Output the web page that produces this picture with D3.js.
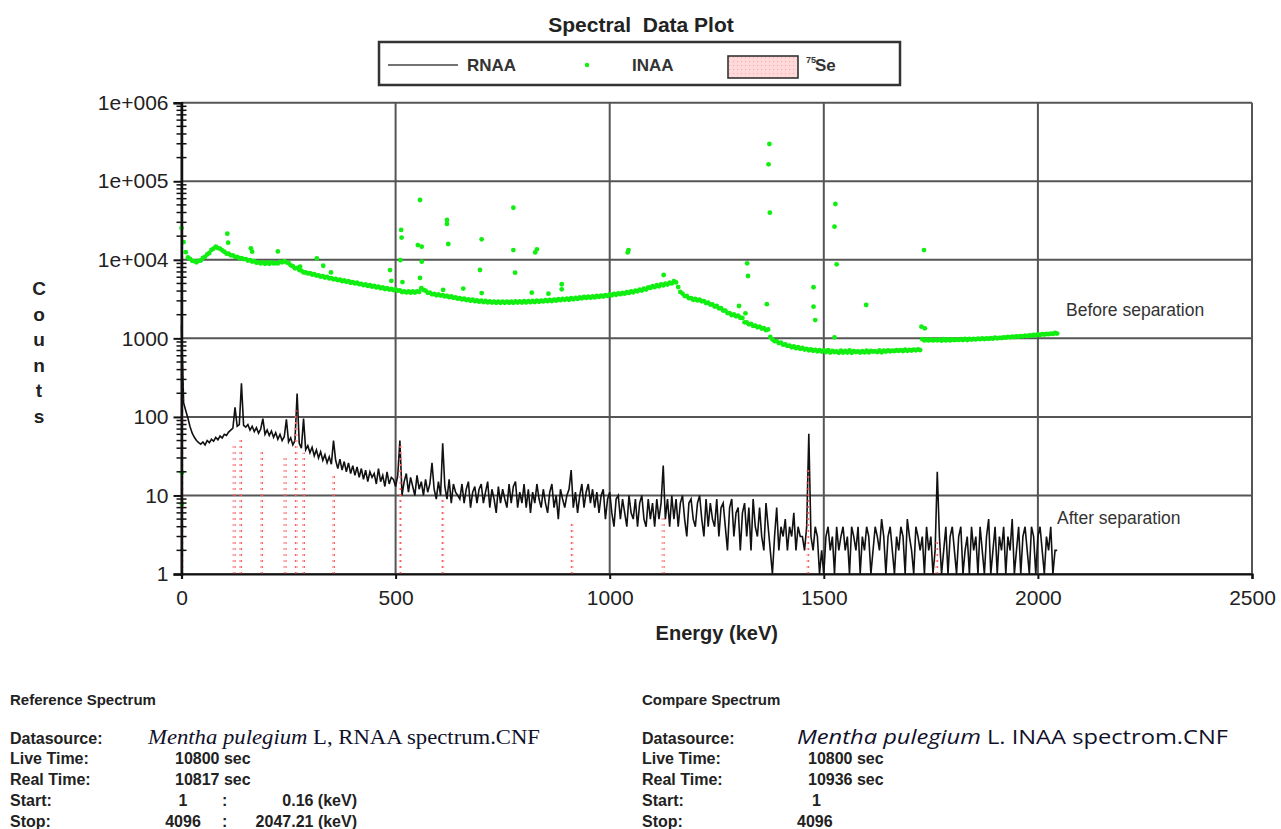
<!DOCTYPE html>
<html><head><meta charset="utf-8">
<script src="https://cdn.jsdelivr.net/npm/d3@7/dist/d3.min.js"></script>
<style>
body{margin:0;background:#fff;}
svg{display:block;font-family:"Liberation Sans",Arial,sans-serif;}
</style></head><body>
<svg id="chart" width="1281" height="829"></svg>
<script>
// ---------- data ----------
const xTicks = [0, 500, 1000, 1500, 2000, 2500];
const yTicks = [1, 10, 100, 1000, 1e4, 1e5, 1e6];
const yTickLabels = ["1", "10", "100", "1000", "1e+004", "1e+005", "1e+006"];
const sampleStepKeV = 5;

// RNAA (after separation), counts sampled every 5 keV from 0 keV
const rnaaCounts = [
 1450,150,120,96,75,62,55,50,47,45,
 48,44,50,47,52,49,55,51,57,54,
 60,58,64,68,72,132,76,80,267,78,
 74,80,68,76,65,73,62,70,95,60,
 68,58,66,55,63,52,60,50,56,93,
 48,54,44,50,198,46,40,95,38,43,
 35,41,32,38,30,36,28,33,26,31,
 25,50,28,22,29,21,27,20,26,19,
 24,18,23,17,22,16,21,15,20,17,
 19,14,22,15,18,13,20,14,17,16,
 13,18,50,10,15,19,11,17,13,10,
 18,12,15,10,16,11,14,26,12,9,
 15,10,46,13,9,16,8,14,11,10,
 9,14,8,12,15,7,11,13,8,12,
 14,8,11,15,7,12,9,6,13,8,
 12,9,7,14,8,13,15,7,11,8,
 14,7,12,6,11,8,14,9,7,12,
 8,6,11,14,7,10,5,12,9,7,
 10,12,21,7,11,6,10,14,7,11,
 14,8,12,7,11,6,10,12,5,9,
 11,6,4,9,10,5,9,6,4,10,
 6,5,9,4,8,10,5,4,9,5,
 8,4,9,5,8,24,5,9,4,10,
 5,9,4,8,10,5,3,8,9,5,
 4,8,10,5,3,9,4,8,5,4,
 9,3,7,8,4,2,7,9,3,6,
 7,2,6,8,3,7,2,9,4,3,
 7,3,2,8,4,2,1,3,7,2,
 4,3,5,2,4,3,6,2,4,3,
 3,2,4,61,3,2,4,3,1,2,
 1,3,4,2,3,1,4,2,3,4,
 2,3,1,4,3,2,4,1,3,2,
 4,3,1,2,4,3,2,5,3,1,
 3,4,2,1,3,2,4,3,1,5,
 3,2,1,4,3,2,3,1,4,2,
 3,1,2,20,3,1,2,4,1,3,
 4,2,1,3,4,1,2,3,1,4,
 2,3,1,4,2,1,3,5,1,2,
 4,1,3,2,4,1,3,2,5,1,
 2,4,1,3,4,2,1,4,3,1,
 3,4,2,1,3,2,4,1,2,2
];

// INAA (before separation) continuum, counts sampled every 5 keV from 0 keV
const inaaCounts = [
 25400,16800,12500,10700,10300,9700,9600,9300,9700,9800,
 10600,10900,11700,12200,13400,13900,14700,14100,13900,13200,
 12700,12000,12000,11400,11400,10900,10900,10500,10500,10200,
 10200,9800,9900,9500,9600,9200,9300,9000,9300,8900,
 9200,8900,9300,9000,9100,9000,9400,9300,9600,9300,
 9100,8500,8300,7800,7900,7400,7300,6900,6900,6700,
 6750,6500,6550,6300,6350,6100,6200,5950,6050,5800,
 5850,5650,5700,5500,5600,5350,5450,5250,5350,5100,
 5200,5000,5100,4900,4950,4750,4850,4650,4750,4550,
 4650,4450,4550,4350,4450,4250,4350,4180,4250,4100,
 4200,4050,4080,3880,3970,3840,3950,3820,3950,3830,
 3970,3900,4350,4150,4050,3800,3820,3640,3680,3540,
 3620,3500,3560,3420,3480,3340,3420,3280,3330,3200,
 3260,3130,3200,3070,3140,3020,3100,2970,3050,2930,
 3020,2900,2990,2870,2960,2850,2940,2840,2930,2830,
 2930,2830,2940,2830,2940,2840,2950,2850,2960,2860,
 2970,2870,2980,2890,2990,2900,3010,2920,3030,2950,
 3060,2970,3090,2990,3120,3020,3150,3060,3180,3090,
 3200,3100,3240,3140,3280,3180,3320,3230,3360,3270,
 3390,3290,3420,3320,3460,3370,3500,3410,3550,3470,
 3620,3530,3680,3590,3740,3650,3800,3700,3870,3790,
 3950,3860,4050,3980,4170,4060,4300,4180,4440,4380,
 4620,4480,4740,4600,4860,4720,4980,4840,5100,5000,
 5330,5150,4500,3900,3720,3450,3460,3250,3260,3100,
 3170,3040,3120,2960,2980,2820,2840,2690,2700,2540,
 2580,2410,2420,2260,2260,2100,2100,1970,2020,1910,
 1940,1830,1820,1600,1600,1510,1530,1440,1450,1380,
 1410,1330,1350,1270,1300,1040,970,920,920,870,
 880,830,840,800,810,770,790,750,770,735,
 755,720,735,705,725,695,715,685,705,680,
 700,670,705,660,690,670,680,655,695,660,
 690,660,700,655,688,670,682,660,686,662,
 695,662,690,680,684,670,700,664,695,680,
 700,685,695,690,705,695,710,690,720,695,
 715,700,720,705,725,710,975,940,960,940,
 960,940,955,945,965,935,975,940,970,940,
 970,950,965,955,975,952,985,950,983,965,
 985,970,990,975,1000,980,1000,985,1005,990,
 1020,1000,1015,1010,1030,1020,1045,1030,1050,1040,
 1060,1050,1070,1060,1085,1070,1090,1080,1110,1090,
 1125,1100,1135,1120,1140,1130,1150,1140,1170,1150
];

// INAA peak channels (scattered points above the continuum)
const inaaPeakEnergy = [1,1,107,109,162,165,225,277,316,331,349,487,490,511,513,514,516,552,557,561,561,557,611,620,620,623,658,697,701,701,775,775,779,818,826,830,857,888,888,1042,1044,1126,1302,1317,1321,1323,1367,1371,1373,1374,1476,1476,1480,1525,1525,1527,1530,1599,1728,1734,1736];
const inaaPeakCounts = [19.5,7.8,21500,16500,14000,12700,12800,8200,10400,8400,6900,7400,5400,9900,24000,19200,5200,15400,57700,14700,9460,5870,4130,32100,28600,15900,4300,7420,18200,3770,46000,13300,6850,3810,12400,13600,3700,4880,4210,12400,13300,6400,2580,2080,9020,6220,2720,164000,298000,39800,4470,2530,1710,26400,1030,51300,8770,2660,1410,13300,1340];

// 75Se reference lines
const seEnergy = [1,123,138,187,242,268,285,355,511,610,912,1125,1463,1764];
const seCounts = [486,48,57,36,31,122,35,19,46,9.6,4.6,5.3,21,2.7];

// ---------- drawing ----------
const svg = d3.select("#chart");
const x = d3.scaleLinear().domain([0, 2500]).range([181.5, 1252]);
const y = d3.scaleLog().domain([1, 1e6]).range([574, 102.7]);

const defs = svg.append("defs");
const pat = defs.append("pattern").attr("id", "sePat").attr("patternUnits", "userSpaceOnUse")
  .attr("width", 3).attr("height", 6);
pat.append("rect").attr("x", 0.5).attr("y", 2).attr("width", 2).attr("height", 2).attr("fill", "#ff6060");
const patL = defs.append("pattern").attr("id", "seLeg").attr("patternUnits", "userSpaceOnUse")
  .attr("width", 4).attr("height", 4);
patL.append("rect").attr("width", 4).attr("height", 4).attr("fill", "#ffd9d9");
patL.append("rect").attr("x", 1).attr("y", 1).attr("width", 1).attr("height", 1).attr("fill", "#f4a8a8");

// Title
svg.append("text").attr("x", 641).attr("y", 32).attr("text-anchor", "middle")
  .style("font-size", "21px").style("font-weight", "bold").style("white-space", "pre")
  .attr("fill", "#222").text("Spectral  Data Plot");

// Legend
const lg = svg.append("g");
lg.append("rect").attr("x", 379).attr("y", 42).attr("width", 521).attr("height", 43)
  .attr("fill", "#fff").attr("stroke", "#333").attr("stroke-width", 2.5);
lg.append("line").attr("x1", 388).attr("x2", 458).attr("y1", 65).attr("y2", 65)
  .attr("stroke", "#444").attr("stroke-width", 1.6);
lg.append("text").attr("x", 467).attr("y", 71).style("font-size", "17px").style("font-weight", "bold").attr("fill", "#333").text("RNAA");
lg.append("circle").attr("cx", 587).attr("cy", 65).attr("r", 2.2).attr("fill", "#11ee11");
lg.append("text").attr("x", 632).attr("y", 71).style("font-size", "17px").style("font-weight", "bold").attr("fill", "#333").text("INAA");
lg.append("rect").attr("x", 728).attr("y", 56).attr("width", 70).attr("height", 22)
  .attr("fill", "url(#seLeg)").attr("stroke", "#333").attr("stroke-width", 1.6);
lg.append("text").attr("x", 806).attr("y", 63).style("font-size", "9px").style("font-weight", "bold").attr("fill", "#333").text("75");
lg.append("text").attr("x", 815).attr("y", 71).style("font-size", "17px").style("font-weight", "bold").attr("fill", "#333").text("Se");

// Grid
const grid = svg.append("g");
grid.selectAll("line.h").data(yTicks).join("line").attr("class", "h")
  .attr("x1", x(0)).attr("x2", x(2500)).attr("y1", d => y(d)).attr("y2", d => y(d))
  .attr("stroke", "#555").attr("stroke-width", 2);
grid.selectAll("line.v").data(xTicks).join("line").attr("class", "v")
  .attr("x1", d => x(d)).attr("x2", d => x(d)).attr("y1", y(1e6)).attr("y2", y(1))
  .attr("stroke", "#555").attr("stroke-width", 2);

// INAA continuum and peaks
const plot = svg.append("g");
const inaaPts = inaaCounts.map((c, i) => ({e: i * sampleStepKeV, c}))
  .concat(inaaPeakEnergy.map((e, i) => ({e, c: inaaPeakCounts[i]})));
plot.selectAll("circle.inaa").data(inaaPts).join("circle").attr("class", "inaa")
  .attr("cx", d => x(d.e)).attr("cy", d => y(d.c)).attr("r", 2.4).attr("fill", "#11ee11");

// RNAA line
const rnaaPts = rnaaCounts.map((c, i) => ({e: i * sampleStepKeV, c}));
plot.append("path").datum(rnaaPts)
  .attr("d", d3.line().x(d => x(d.e)).y(d => y(Math.max(1, d.c))))
  .attr("fill", "none").attr("stroke", "#111").attr("stroke-width", 1.6).attr("stroke-linejoin", "miter");

// 75Se bars
plot.selectAll("rect.se").data(seEnergy).join("rect").attr("class", "se")
  .attr("x", d => x(d) - 1.5).attr("width", 3)
  .attr("y", (d, i) => y(seCounts[i])).attr("height", (d, i) => y(1) - y(seCounts[i]))
  .attr("fill", "url(#sePat)");

// Axes
const yAxis = d3.axisLeft(y).tickValues(yTicks).tickFormat((d, i) => yTickLabels[i]).tickSize(8).tickPadding(5);
const gy = svg.append("g").attr("transform", `translate(${x(0)},0)`).call(yAxis);
gy.select(".domain").attr("stroke", "#111").attr("stroke-width", 2.5);
gy.selectAll(".tick line").attr("stroke", "#111").attr("stroke-width", 2);
gy.selectAll(".tick text").style("font-size", "21px").style("font-family", "'Liberation Sans',Arial,sans-serif").attr("fill", "#222");
const minor = [];
yTicks.slice(0, -1).forEach(b => { for (let k = 2; k <= 9; k++) minor.push(b * k); });
svg.append("g").selectAll("line").data(minor).join("line")
  .attr("x1", x(0) - 5).attr("x2", x(0) + 5).attr("y1", d => y(d)).attr("y2", d => y(d))
  .attr("stroke", "#111").attr("stroke-width", 1.5);

const xAxis = d3.axisBottom(x).tickValues(xTicks).tickFormat(d3.format("d")).tickSize(5).tickPadding(11.5);
const gx = svg.append("g").attr("transform", `translate(0,${y(1)})`).call(xAxis);
gx.select(".domain").attr("stroke", "#111").attr("stroke-width", 2.2);
gx.selectAll(".tick line").attr("stroke", "#111").attr("stroke-width", 2);
gx.selectAll(".tick text").style("font-size", "21px").style("font-family", "'Liberation Sans',Arial,sans-serif").attr("fill", "#222");

// Axis titles
svg.append("text").attr("x", (x(0) + x(2500)) / 2).attr("y", 640).attr("text-anchor", "middle")
  .style("font-size", "20px").style("font-weight", "bold").attr("fill", "#222").text("Energy (keV)");
const countsLetters = ["C", "o", "u", "n", "t", "s"];
svg.append("g").selectAll("text").data(countsLetters).join("text")
  .attr("x", 39).attr("y", (d, i) => 295 + i * 25.5).attr("text-anchor", "middle")
  .style("font-size", "19px").style("font-weight", "bold").attr("fill", "#222").text(d => d);

// Annotations
svg.append("text").attr("x", 1066).attr("y", 316).style("font-size", "17.5px").attr("fill", "#333").text("Before separation");
svg.append("text").attr("x", 1057).attr("y", 524).style("font-size", "17.5px").attr("fill", "#333").text("After separation");

// Bottom info blocks
const info = svg.append("g").attr("fill", "#222").style("font-weight", "bold");
const rowsY = [744, 764, 785, 806, 827];
const labels = ["Datasource:", "Live Time:", "Real Time:", "Start:", "Stop:"];
[10, 642].forEach(x0 => {
  info.selectAll(null).data(labels).join("text").attr("x", x0).attr("y", (d, i) => rowsY[i])
    .style("font-size", "16px").text(d => d);
});
info.append("text").attr("x", 10).attr("y", 705).style("font-size", "15px").text("Reference Spectrum");
info.append("text").attr("x", 642).attr("y", 705).style("font-size", "15px").text("Compare Spectrum");

info.append("text").attr("x", 175).attr("y", rowsY[1]).style("font-size", "16px").text("10800 sec");
info.append("text").attr("x", 175).attr("y", rowsY[2]).style("font-size", "16px").text("10817 sec");
info.append("text").attr("x", 183).attr("y", rowsY[3]).attr("text-anchor", "middle").style("font-size", "16px").text("1");
info.append("text").attr("x", 183).attr("y", rowsY[4]).attr("text-anchor", "middle").style("font-size", "16px").text("4096");
info.append("text").attr("x", 222).attr("y", rowsY[3]).style("font-size", "16px").text(":");
info.append("text").attr("x", 222).attr("y", rowsY[4]).style("font-size", "16px").text(":");
info.append("text").attr("x", 357).attr("y", rowsY[3]).attr("text-anchor", "end").style("font-size", "16px").text("0.16 (keV)");
info.append("text").attr("x", 357).attr("y", rowsY[4]).attr("text-anchor", "end").style("font-size", "16px").text("2047.21 (keV)");

info.append("text").attr("x", 808).attr("y", rowsY[1]).style("font-size", "16px").text("10800 sec");
info.append("text").attr("x", 808).attr("y", rowsY[2]).style("font-size", "16px").text("10936 sec");
info.append("text").attr("x", 812).attr("y", rowsY[3]).style("font-size", "16px").text("1");
info.append("text").attr("x", 797).attr("y", rowsY[4]).style("font-size", "16px").text("4096");

const ds1 = svg.append("text").attr("x", 148).attr("y", 744)
  .attr("textLength", 392).attr("lengthAdjust", "spacingAndGlyphs")
  .style("font-family", "'Liberation Serif','Times New Roman',serif").style("font-size", "21px").attr("fill", "#10102a");
ds1.append("tspan").style("font-style", "italic").text("Mentha pulegium");
ds1.append("tspan").text(" L, RNAA spectrum.CNF");
const ds2 = svg.append("text").attr("x", 797).attr("y", 744)
  .attr("textLength", 431).attr("lengthAdjust", "spacingAndGlyphs")
  .style("font-family", "'Open Sans','Noto Sans',sans-serif").style("font-size", "19.5px").attr("fill", "#10102a");
ds2.append("tspan").style("font-style", "italic").text("Mentha pulegium");
ds2.append("tspan").text(" L. INAA spectrom.CNF");
</script>
</body></html>
